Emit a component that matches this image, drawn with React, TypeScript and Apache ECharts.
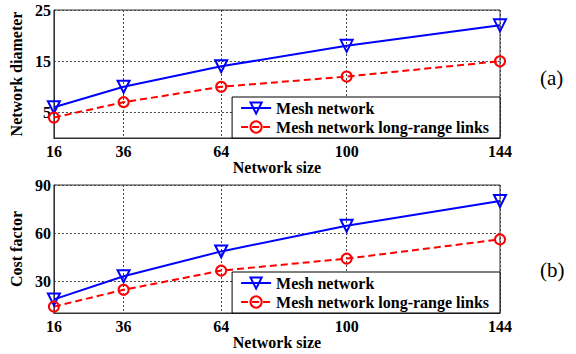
import React, { useEffect, useRef } from "react";
import * as echarts from "echarts";

const sizes = [16, 36, 64, 100, 144];
const diameterMesh = [6, 10, 14, 18, 22];
const diameterLongRange = [4, 7, 10, 12, 15];
const costMesh = [18.5, 33, 48.5, 64.5, 80];
const costLongRange = [14, 24.5, 36.5, 44, 56];
const diameterTicks = [5, 15, 25];
const costTicks = [30, 60, 90];
const seriesNames = ["Mesh network", "Mesh network long-range links"];

const FONT = "Liberation Serif";
const GRIDC = "#444";

function pairs(ys: number[]) {
  return sizes.map((x, i) => [x, ys[i]]);
}

export default function App() {
  const ref = useRef<HTMLDivElement>(null);
  useEffect(() => {
    if (!ref.current) return;
    const chart = echarts.init(ref.current, null, { renderer: "svg" });
    const labelStyle = { fontFamily: FONT, fontWeight: "bold" as const, fontSize: 16, color: "#000" };
    const xAxis = (gridIndex: number) => ({
      type: "value" as const,
      gridIndex,
      min: 16,
      max: 144,
      name: "Network size",
      nameLocation: "middle" as const,
      nameGap: 21,
      nameTextStyle: { ...labelStyle },
      axisLine: { show: true, lineStyle: { color: "#333", width: 1 } },
      axisTick: { show: false, customValues: sizes },
      axisLabel: { ...labelStyle, margin: 5, customValues: sizes },
      splitLine: { show: true, lineStyle: { color: GRIDC, type: [2, 2], width: 1 } },
    });
    const yAxis = (gridIndex: number, min: number, max: number, ticks: number[], name: string) => ({
      type: "value" as const,
      gridIndex,
      min,
      max,
      name,
      nameLocation: "middle" as const,
      nameGap: 25,
      nameTextStyle: { ...labelStyle },
      axisLine: { show: true, lineStyle: { color: "#333", width: 1 } },
      axisTick: { show: false, customValues: ticks },
      axisLabel: { ...labelStyle, margin: 3, customValues: ticks },
      splitLine: { show: true, lineStyle: { color: GRIDC, type: [2, 2], width: 1 } },
    });
    const meshSeries = (idx: number, data: number[]) => ({
      type: "line" as const,
      name: seriesNames[0],
      xAxisIndex: idx,
      yAxisIndex: idx,
      data: pairs(data),
      symbol: "triangle",
      symbolRotate: 180,
      symbolSize: 12,
      lineStyle: { color: "#0000ff", width: 2 },
      itemStyle: { color: "rgba(255,255,255,0)", borderColor: "#0000ff", borderWidth: 2 },
      z: 3,
    });
    const longSeries = (idx: number, data: number[]) => ({
      type: "line" as const,
      name: seriesNames[1],
      xAxisIndex: idx,
      yAxisIndex: idx,
      data: pairs(data),
      symbol: "circle",
      symbolSize: 10,
      lineStyle: { color: "#ff0000", width: 2, type: [7, 4] },
      itemStyle: { color: "rgba(255,255,255,0)", borderColor: "#ff0000", borderWidth: 2 },
      z: 3,
    });
    const legend = (bottom: number) => ({
      orient: "vertical" as const,
      right: 76,
      bottom,
      data: seriesNames,
      backgroundColor: "#fff",
      borderColor: "#000",
      borderWidth: 1,
      borderRadius: 0,
      padding: [3, 11, 3, 8],
      itemGap: 3,
      itemWidth: 30,
      itemHeight: 14,
      selectedMode: false,
      textStyle: { ...labelStyle },
      z: 10,
    });
    chart.setOption({
      animation: false,
      backgroundColor: "#fff",
      textStyle: { fontFamily: FONT },
      grid: [
        { left: 51, right: 76, top: 10, height: 128, show: true, borderColor: "#333", borderWidth: 1, backgroundColor: "transparent" },
        { left: 51, right: 76, top: 185, height: 128, show: true, borderColor: "#333", borderWidth: 1, backgroundColor: "transparent" },
      ],
      xAxis: [xAxis(0), xAxis(1)],
      yAxis: [
        yAxis(0, 0, 25, diameterTicks, "Network diameter"),
        yAxis(1, 10, 90, costTicks, "Cost factor"),
      ],
      legend: [legend(216), legend(41)],
      series: [
        meshSeries(0, diameterMesh),
        longSeries(0, diameterLongRange),
        meshSeries(1, costMesh),
        longSeries(1, costLongRange),
      ],
      graphic: [
        { type: "text", left: 540, top: 67, style: { text: "(a)", fontFamily: FONT, fontSize: 21, fill: "#000" } },
        { type: "text", left: 540, top: 259, style: { text: "(b)", fontFamily: FONT, fontSize: 21, fill: "#000" } },
      ],
    });
    return () => chart.dispose();
  }, []);
  return <div ref={ref} style={{ position: "fixed", left: 0, top: 0, width: 576, height: 354 }} />;
}
